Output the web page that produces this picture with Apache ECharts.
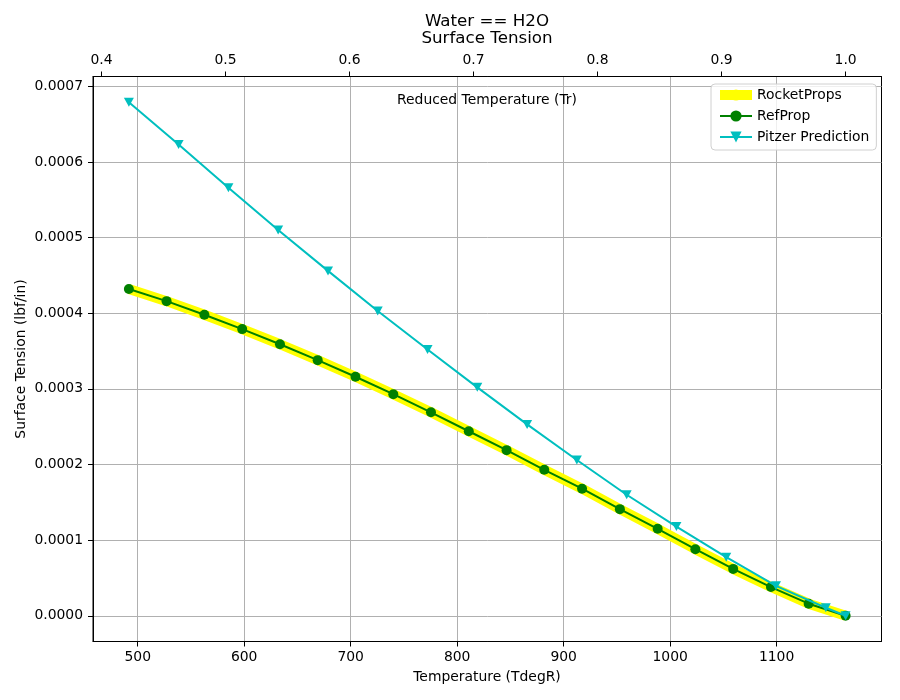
<!DOCTYPE html>
<html>
<head>
<meta charset="utf-8">
<script src="https://cdn.jsdelivr.net/npm/echarts@6/dist/echarts.min.js"></script>
<style>
  html, body { margin: 0; padding: 0; background: #fff; }
  #chart { width: 900px; height: 700px; }
</style>
</head>
<body>
<div id="chart"></div>
<script>
// critical temperature of water (degR), used for the top Tr axis
const tCrit = 1164.8;

// RefProp / RocketProps points
const refTemps = [491.7, 527.1, 562.6, 598.1, 633.6, 669.0, 704.5, 740.0, 775.4, 810.9,
                  846.4, 881.8, 917.3, 952.8, 988.3, 1023.7, 1059.2, 1094.7, 1130.1, 1164.8];
const refProp = [0.000432, 0.000416, 0.000398, 0.000379, 0.000359, 0.000338, 0.000316, 0.000293,
                 0.000269, 0.000244, 0.000219, 0.000193, 0.000168, 0.000141, 0.000115, 0.000088,
                 0.000062, 0.000038, 0.000016, 0.0];
const rocketProps = [0.000432, 0.000416, 0.000398, 0.000379, 0.000359, 0.000338, 0.000316, 0.000293,
                     0.000269, 0.000244, 0.000219, 0.000193, 0.000168, 0.000141, 0.000115, 0.000088,
                     0.000062, 0.000038, 0.000016, 0.0];

// Pitzer prediction points
const pitzerTemps = [491.7, 538.4, 585.2, 631.9, 678.7, 725.4, 772.2, 818.9, 865.7, 912.4,
                     959.2, 1005.9, 1052.7, 1099.4, 1146.2, 1164.8];
const pitzer = [0.000679, 0.000623, 0.000566, 0.000510, 0.000456, 0.000403, 0.000352, 0.000302,
                0.000253, 0.000206, 0.000160, 0.000118, 0.0000775, 0.0000396, 0.0000106, 0.0];

// tick labels
const tempTicks = [500, 600, 700, 800, 900, 1000, 1100];
const trTicks = [0.4, 0.5, 0.6, 0.7, 0.8, 0.9, 1.0];
const stTicks = [0, 0.0001, 0.0002, 0.0003, 0.0004, 0.0005, 0.0006, 0.0007];

const xMin = 458.0, xMax = 1198.5;
const yMin = -0.000034, yMax = 0.000713;

const font = 'DejaVu Sans';
const fs = 13.9;

function pairs(xs, ys) {
  let out = [];
  for (let i = 0; i < xs.length; i++) out.push([xs[i], ys[i]]);
  return out;
}

let chart = echarts.init(document.getElementById('chart'), null, { renderer: 'canvas' });

let option = {
  animation: false,
  backgroundColor: '#fff',
  textStyle: { fontFamily: font },
  grid: {
    left: 93, right: 18.5, top: 76.5, bottom: 58.5,
    show: true, borderColor: '#000', borderWidth: 1
  },
  legend: {
    orient: 'vertical',
    left: 711, top: 84,
    padding: [4, 7, 6, 4],
    itemWidth: 32, itemHeight: 14, itemGap: 7,
    backgroundColor: 'rgba(255,255,255,0.8)',
    borderColor: '#d0d0d0', borderWidth: 1, borderRadius: 4,
    textStyle: { fontFamily: font, fontSize: fs, color: '#000' },
    data: [
      { name: 'RocketProps', lineStyle: { width: 10, color: '#ffff00', cap: 'butt' } },
      { name: 'RefProp' },
      { name: 'Pitzer Prediction', symbolRotate: 180 }
    ]
  },
  xAxis: [
    {
      type: 'value', position: 'bottom', min: xMin, max: xMax,
      axisLine: { onZero: false, lineStyle: { color: '#000' } },
      axisTick: { customValues: tempTicks, length: 5, lineStyle: { color: '#000' } },
      axisLabel: {
        customValues: tempTicks, margin: 9, color: '#000', fontSize: fs, fontFamily: font,
        formatter: v => String(v)
      },
      splitLine: { show: true, lineStyle: { color: '#b0b0b0', width: 1 } }
    },
    {
      type: 'value', position: 'top', min: xMin / tCrit, max: xMax / tCrit,
      axisLine: { onZero: false, lineStyle: { color: '#000' } },
      axisTick: { customValues: trTicks, length: 5, lineStyle: { color: '#000' } },
      axisLabel: {
        customValues: trTicks, margin: 9, color: '#000', fontSize: fs, fontFamily: font,
        formatter: v => v.toFixed(1)
      },
      splitLine: { show: false }
    }
  ],
  yAxis: {
    type: 'value', min: yMin, max: yMax,
    axisLine: { show: true, onZero: false, lineStyle: { color: '#000' } },
    axisTick: { show: true, customValues: stTicks, length: 5, lineStyle: { color: '#000' } },
    axisLabel: {
      customValues: stTicks, margin: 10, color: '#000', fontSize: fs, fontFamily: font,
      formatter: v => v.toFixed(4)
    },
    splitLine: { show: true, lineStyle: { color: '#b0b0b0', width: 1 } }
  },
  graphic: [
    { type: 'text', x: 487, y: 21.7, style: { text: 'Water == H2O', font: '16.7px "DejaVu Sans"', fill: '#000', textAlign: 'center', textVerticalAlign: 'middle' } },
    { type: 'text', x: 487, y: 38.5, style: { text: 'Surface Tension', font: '16.7px "DejaVu Sans"', fill: '#000', textAlign: 'center', textVerticalAlign: 'middle' } },
    { type: 'text', x: 487, y: 100, z: 10, style: { text: 'Reduced Temperature (Tr)', font: fs + 'px "DejaVu Sans"', fill: '#000', textAlign: 'center', textVerticalAlign: 'middle' } },
    { type: 'text', x: 487, y: 677, style: { text: 'Temperature (TdegR)', font: fs + 'px "DejaVu Sans"', fill: '#000', textAlign: 'center', textVerticalAlign: 'middle' } },
    { type: 'text', x: 21, y: 359, rotation: Math.PI / 2, style: { text: 'Surface Tension (lbf/in)', font: fs + 'px "DejaVu Sans"', fill: '#000', textAlign: 'center', textVerticalAlign: 'middle' } }
  ],
  series: [
    {
      name: 'RocketProps', type: 'line', xAxisIndex: 0,
      data: pairs(refTemps, rocketProps),
      symbol: 'none', color: '#ffff00',
      lineStyle: { color: '#ffff00', width: 10, cap: 'butt' },
      z: 2
    },
    {
      name: 'RefProp', type: 'line', xAxisIndex: 0,
      data: pairs(refTemps, refProp),
      symbol: 'circle', symbolSize: 10, color: '#008000',
      itemStyle: { color: '#008000' },
      lineStyle: { color: '#008000', width: 2 },
      z: 3
    },
    {
      name: 'Pitzer Prediction', type: 'line', xAxisIndex: 0,
      data: pairs(pitzerTemps, pitzer),
      symbol: 'triangle', symbolRotate: 180, symbolSize: [10, 9], color: '#00bfbf',
      itemStyle: { color: '#00bfbf' },
      lineStyle: { color: '#00bfbf', width: 2 },
      z: 4
    }
  ]
};

chart.setOption(option);
</script>
</body>
</html>
